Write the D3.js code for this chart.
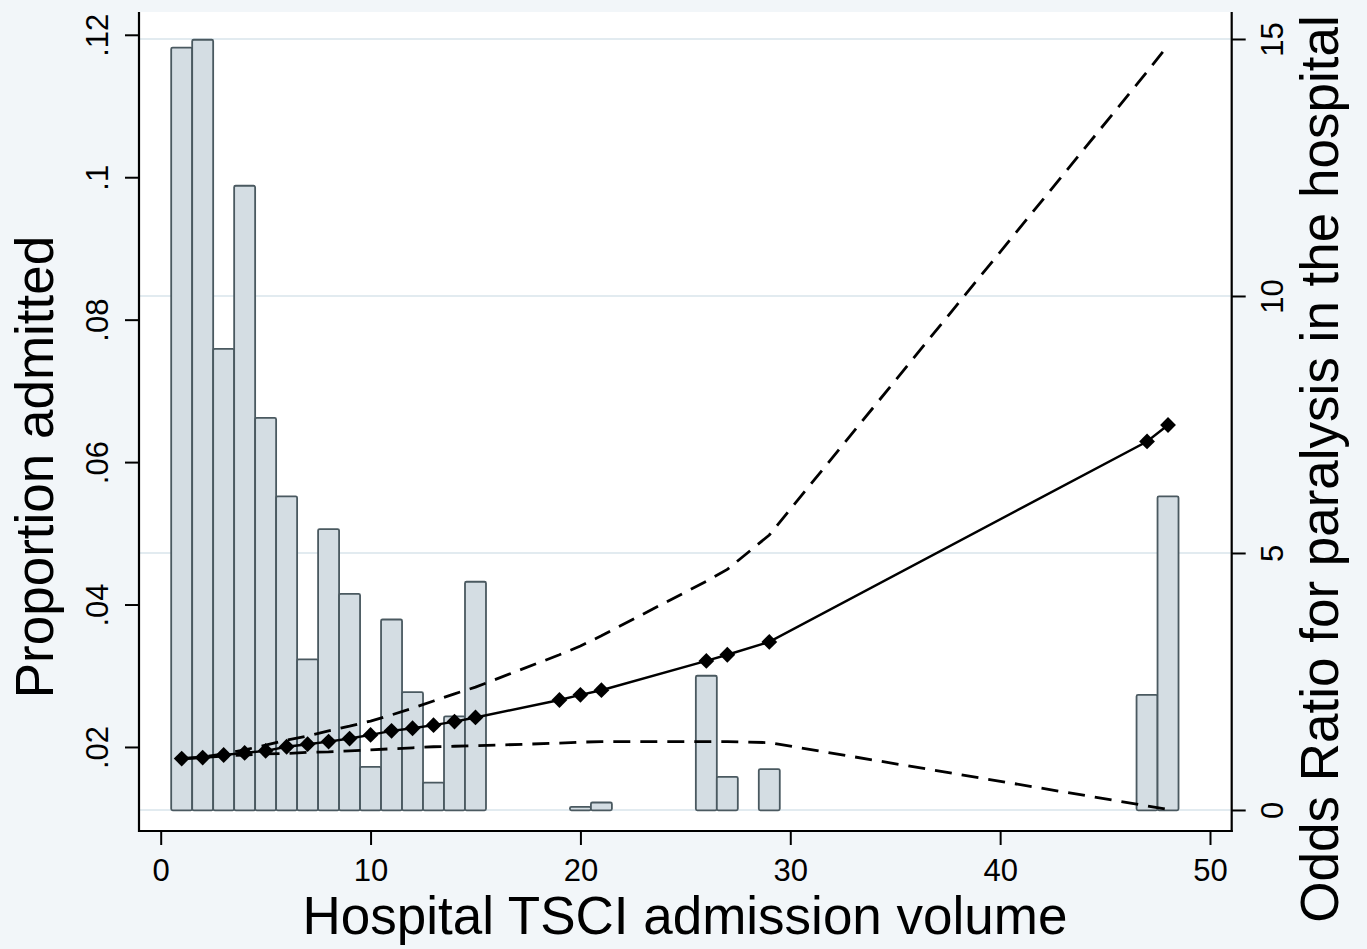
<!DOCTYPE html>
<html>
<head>
<meta charset="utf-8">
<script src="https://cdn.jsdelivr.net/npm/d3@7"></script>
<style>
  body { margin: 0; background: #f2f6f9; }
  svg { display: block; font-family: "Liberation Sans", Arial, sans-serif; }
</style>
</head>
<body>
<div class="chart"></div>
<script>
// histogram: hospital volume vs proportion admitted (left axis)
var barVolume = [1,2,3,4,5,6,7,8,9,10,11,12,13,14,15,20,21,26,27,29,47,48];
var barProp = [0.1182,0.1193,0.0759,0.0988,0.0662,0.0552,0.0323,0.0506,0.0415,0.0172,
               0.0379,0.0277,0.0150,0.0243,0.0432,0.0116,0.0122,0.0300,0.0158,0.0169,0.0273,0.0552];
var barBase = 0.0111;

// odds ratio with confidence limits (right axis)
var orVolume = [1,2,3,4,5,6,7,8,9,10,11,12,13,14,15,19,20,21,26,27,29,47,48];
var orValue = [1.00,1.02,1.07,1.11,1.15,1.23,1.28,1.33,1.39,1.46,1.54,1.59,1.65,1.72,1.80,
               2.14,2.24,2.33,2.90,3.02,3.27,7.17,7.49];
var orLower = [1.00,1.02,1.05,1.07,1.09,1.10,1.12,1.13,1.15,1.17,1.19,1.21,1.23,1.24,1.25,
               1.30,1.32,1.33,1.33,1.33,1.31,0.08,0.01];
var orUpper = [1.00,1.03,1.09,1.17,1.26,1.36,1.44,1.54,1.63,1.73,1.85,1.98,2.12,2.26,2.39,
               3.02,3.19,3.39,4.45,4.68,5.35,14.36,14.88];

var xTicks = [0,10,20,30,40,50];
var leftTicks = [0.02,0.04,0.06,0.08,0.1,0.12];
var rightTicks = [0,5,10,15];

var W = 1367, H = 949;
var plot = {left: 139, right: 1231.7, top: 12, bottom: 831};

var svg = d3.select(".chart").append("svg")
  .attr("width", W)
  .attr("height", H);

svg.append("rect").attr("width", W).attr("height", H).attr("fill", "#f2f6f9");
svg.append("rect")
  .attr("x", plot.left).attr("y", plot.top)
  .attr("width", plot.right - plot.left).attr("height", plot.bottom - plot.top)
  .attr("fill", "#ffffff");

var x = d3.scaleLinear().domain([0, 50]).range([160.7, 1210]);
var yL = d3.scaleLinear().domain([0.0082, 0.1232]).range([plot.bottom, plot.top]);
var yR = d3.scaleLinear().domain([-0.409, 15.525]).range([plot.bottom, plot.top]);

// gridlines on the right axis
svg.append("g").selectAll("line")
  .data(rightTicks)
  .enter().append("line")
  .attr("x1", plot.left + 1).attr("x2", plot.right - 1)
  .attr("y1", function(d) { return yR(d); })
  .attr("y2", function(d) { return yR(d); })
  .attr("stroke", "#e2ebf0")
  .attr("stroke-width", 2);

// bars
svg.append("g").selectAll("rect")
  .data(barVolume)
  .enter().append("rect")
  .attr("x", function(d) { return x(d - 0.5); })
  .attr("width", function(d) { return x(d + 0.5) - x(d - 0.5); })
  .attr("y", function(d, i) { return yL(barProp[i]); })
  .attr("height", function(d, i) { return yL(barBase) - yL(barProp[i]); })
  .attr("rx", 1.5)
  .attr("fill", "#d4dde3")
  .attr("stroke", "#4a5960")
  .attr("stroke-width", 1.8);

function lineFor(vals) {
  return d3.line()
    .x(function(d, i) { return x(orVolume[i]); })
    .y(function(d) { return yR(d); })(vals);
}

svg.append("path").attr("d", lineFor(orUpper))
  .attr("fill", "none").attr("stroke", "#000").attr("stroke-width", 2.8)
  .attr("stroke-dasharray", "17,10");
svg.append("path").attr("d", lineFor(orLower))
  .attr("fill", "none").attr("stroke", "#000").attr("stroke-width", 2.8)
  .attr("stroke-dasharray", "17,10");
svg.append("path").attr("d", lineFor(orValue))
  .attr("fill", "none").attr("stroke", "#000").attr("stroke-width", 2.4);

var diamond = d3.symbol().type(d3.symbolSquare).size(125);
svg.append("g").selectAll("path")
  .data(orValue)
  .enter().append("path")
  .attr("d", diamond)
  .attr("transform", function(d, i) { return "translate(" + x(orVolume[i]) + "," + yR(d) + ") rotate(45)"; })
  .attr("fill", "#000");

// axes
var xAxis = d3.axisBottom(x).tickValues(xTicks).tickSize(14).tickSizeOuter(0).tickPadding(14);
var gx = svg.append("g").attr("transform", "translate(0," + plot.bottom + ")").call(xAxis);
gx.select(".domain").remove();
gx.selectAll("text").attr("font-size", 31).attr("fill", "#000").attr("font-family", null);

var leftAxis = d3.axisLeft(yL).tickValues(leftTicks).tickSize(14).tickSizeOuter(0)
  .tickFormat(function(d) { return String(d).replace(/^0/, ""); });
var gl = svg.append("g").attr("transform", "translate(" + plot.left + ",0)").call(leftAxis);
gl.select(".domain").remove();
gl.selectAll("text")
  .attr("transform", "rotate(-90)")
  .attr("x", 0).attr("y", -31).attr("dy", 0)
  .attr("text-anchor", "middle")
  .attr("font-size", 31).attr("fill", "#000").attr("font-family", null);

var rightAxis = d3.axisRight(yR).tickValues(rightTicks).tickSize(14).tickSizeOuter(0);
var gr = svg.append("g").attr("transform", "translate(" + plot.right + ",0)").call(rightAxis);
gr.select(".domain").remove();
gr.selectAll("text")
  .attr("transform", "rotate(-90)")
  .attr("x", 0).attr("y", 51).attr("dy", 0)
  .attr("text-anchor", "middle")
  .attr("font-size", 31).attr("fill", "#000").attr("font-family", null);

svg.selectAll(".tick line").attr("stroke", "#000").attr("stroke-width", 2);

// axis lines
var frame = svg.append("g").attr("stroke", "#000").attr("stroke-width", 2.2);
frame.append("line").attr("x1", plot.left).attr("x2", plot.left).attr("y1", plot.top).attr("y2", plot.bottom + 1);
frame.append("line").attr("x1", plot.right).attr("x2", plot.right).attr("y1", plot.top).attr("y2", plot.bottom + 1);
frame.append("line").attr("x1", plot.left - 1).attr("x2", plot.right + 1).attr("y1", plot.bottom).attr("y2", plot.bottom);

// titles
svg.append("text")
  .attr("x", 685).attr("y", 934)
  .attr("text-anchor", "middle")
  .attr("font-size", 53)
  .text("Hospital TSCI admission volume");

svg.append("text")
  .attr("transform", "translate(53,467) rotate(-90)")
  .attr("text-anchor", "middle")
  .attr("font-size", 53)
  .text("Proportion admitted");

svg.append("text")
  .attr("transform", "translate(1338,469) rotate(-90)")
  .attr("text-anchor", "middle")
  .attr("font-size", 53)
  .text("Odds Ratio for paralysis in the hospital");
</script>
</body>
</html>
